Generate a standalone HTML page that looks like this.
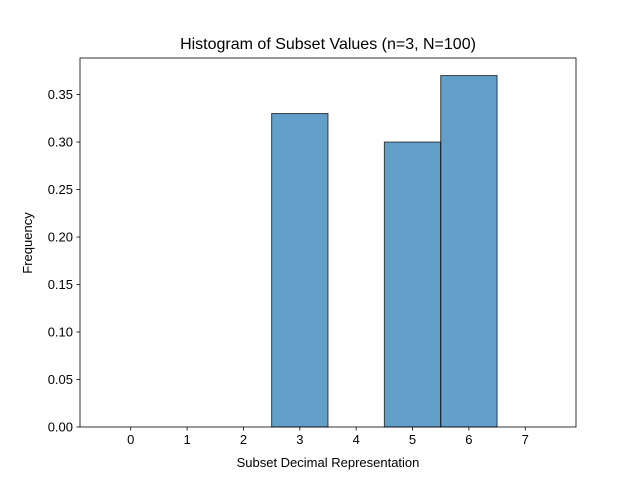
<!DOCTYPE html>
<html><head><meta charset="utf-8"><style>
body{margin:0;background:#fff}
text{font-family:"Liberation Sans","DejaVu Sans",sans-serif;fill:#000}
</style></head><body>
<svg id="chart" width="640" height="480" xmlns="http://www.w3.org/2000/svg">
<rect width="640" height="480" fill="#fff"/>
<g id="bars"></g>
<rect x="80" y="58" width="496" height="369" fill="none" stroke="#000" stroke-width="0.8"/>
<g id="axes"></g>
<text x="328" y="49" font-size="16" text-anchor="middle">Histogram of Subset Values (n=3, N=100)</text>
<text x="328" y="467" font-size="13" text-anchor="middle">Subset Decimal Representation</text>
<text x="32" y="243" font-size="13" text-anchor="middle" transform="rotate(-90 32 243)">Frequency</text>
</svg>
<script>
const categories=[0,1,2,3,4,5,6,7];
const frequencies=[0,0,0,0.33,0,0.30,0.37,0];
const xTicks=[0,1,2,3,4,5,6,7];
const yTicks=[0,0.05,0.10,0.15,0.20,0.25,0.30,0.35];
const NS="http://www.w3.org/2000/svg";
const L=80,R=576,T=58,B=427;
const xmin=-0.9,xmax=7.9,ymin=0,ymax=0.3885;
const sx=v=>L+(v-xmin)/(xmax-xmin)*(R-L);
const sy=v=>B-(v-ymin)/(ymax-ymin)*(B-T);
const bars=document.getElementById('bars'),axes=document.getElementById('axes');
function mk(t,a,p){const e=document.createElementNS(NS,t);for(const k in a)e.setAttribute(k,a[k]);p.appendChild(e);return e;}
categories.forEach((c,i)=>{
  const x0=sx(c-0.5),x1=sx(c+0.5),y=sy(frequencies[i]);
  const r=mk('rect',{x:x0,y:y,width:x1-x0,height:Math.max(B-y,0),fill:'#1f77b4','fill-opacity':0.7,stroke:'#000','stroke-opacity':0.7,'stroke-width':1},bars);
  
  
});
xTicks.forEach(v=>{
  const x=sx(v);
  mk('line',{x1:x,x2:x,y1:B,y2:B+3.5,stroke:'#000','stroke-width':0.8},axes);
  const t=mk('text',{x:x,y:B+17,'font-size':13,'text-anchor':'middle'},axes);
  t.textContent=v;
  
  
});
yTicks.forEach(v=>{
  const y=sy(v);
  mk('line',{x1:L-3.5,x2:L,y1:y,y2:y,stroke:'#000','stroke-width':0.8},axes);
  const t=mk('text',{x:L-7,y:y+4.5,'font-size':13,'text-anchor':'end'},axes);
  t.textContent=v.toFixed(2);
  
  
});
</script>
</body></html>
